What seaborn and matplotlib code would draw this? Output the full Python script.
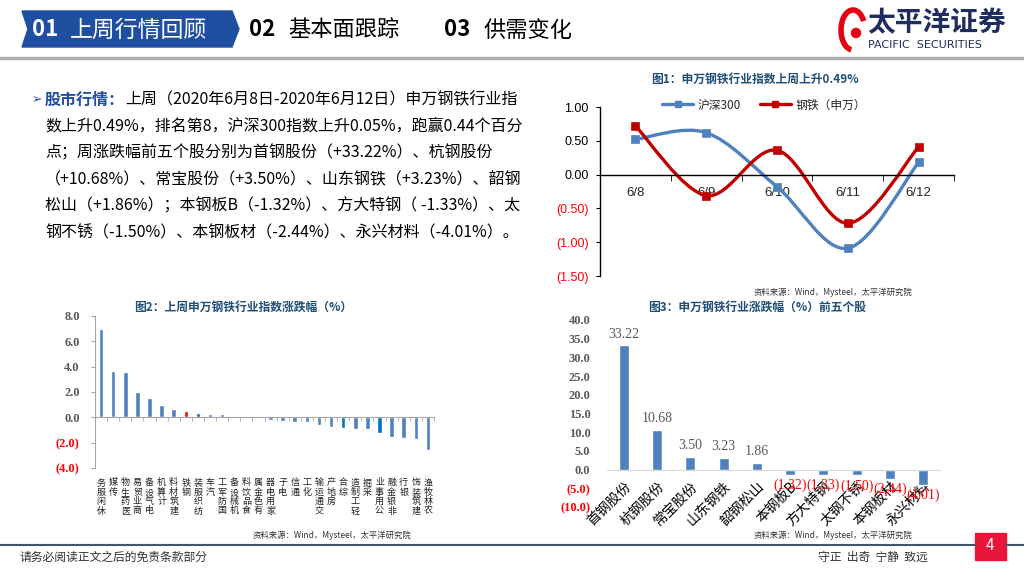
import numpy as np
import pandas as pd
import matplotlib
matplotlib.use('Agg')
import matplotlib.pyplot as plt
import seaborn as sns
from matplotlib.path import Path
from matplotlib.patches import PathPatch, Polygon, Rectangle, Arc, Circle
from matplotlib.lines import Line2D

# 图1：日涨跌幅
dates = ['6/8', '6/9', '6/10', '6/11', '6/12']
hs300 = [0.52, 0.62, -0.18, -1.09, 0.18]
steel = [0.72, -0.31, 0.36, -0.72, 0.41]

# 图2：申万一级行业周涨跌幅
industries = ['休闲服务', '传媒', '医药生物', '商业贸易', '电气设备', '计算机', '建筑材料',
              '钢铁', '纺织服装', '汽车', '国防军工', '机械设备', '食品饮料', '有色金属',
              '家用电器', '电子', '通信', '化工', '交通运输', '房地产', '综合', '轻工制造',
              '采掘', '公用事业', '非银金融', '银行', '建筑装饰', '农林牧渔']
ind_chg = [7.00, 3.63, 3.58, 2.00, 1.53, 0.95, 0.68, 0.49, 0.37, 0.26, 0.24, 0.03, -0.03,
           -0.05, -0.24, -0.32, -0.37, -0.37, -0.58, -0.76, -0.84, -0.89, -0.95, -1.24,
           -1.55, -1.60, -1.71, -2.60]
highlight_blue = ['纺织服装', '综合', '公用事业']

# 图3：个股涨跌幅
stocks = ['首钢股份', '杭钢股份', '常宝股份', '山东钢铁', '韶钢松山',
          '本钢板B', '方大特钢', '太钢不锈', '本钢板材', '永兴材料']
stock_chg = [33.22, 10.68, 3.50, 3.23, 1.86, -1.32, -1.33, -1.50, -2.44, -4.01]

W, H = 1024, 576
BLUE = '#4f81bd'
RED_LINE = '#c00000'
NEG = '#ff0000'
GRAY = '#595959'
TITLE = '#1f4e79'
SERIF = 'Liberation Serif'

sns.set_style('white')
plt.rcParams['font.family'] = ['Noto Sans CJK SC', 'DejaVu Sans']
plt.rcParams['axes.unicode_minus'] = False


def box(l, t, r, b):
    return [l / W, 1 - b / H, (r - l) / W, (b - t) / H]


def paren(v, d):
    return f'({abs(v):.{d}f})' if v < 0 else f'{v:.{d}f}'


def smooth_path(xs, ys, k=1 / 6):
    # 类似Excel平滑线的贝塞尔曲线
    pts = np.column_stack([xs, ys]).astype(float)
    p = np.vstack([pts[0], pts, pts[-1]])
    verts, codes = [pts[0]], [Path.MOVETO]
    for i in range(len(pts) - 1):
        p0, p1, p2, p3 = p[i], p[i + 1], p[i + 2], p[i + 3]
        verts += [p1 + (p2 - p0) * k, p2 - (p3 - p1) * k, p2]
        codes += [Path.CURVE4] * 3
    return Path(verts, codes)


fig = plt.figure(figsize=(W / 100, H / 100), dpi=100)

# 背景层，像素坐标
ax0 = fig.add_axes([0, 0, 1, 1])
ax0.set_xlim(0, W)
ax0.set_ylim(H, 0)
ax0.axis('off')

# 页眉
ax0.add_patch(Polygon([(22, 11), (232, 11), (239, 29), (232, 47), (22, 47), (28, 29)],
                      closed=True, color='#1f4fa0'))
ax0.text(32, 30, '01', color='white', fontsize=16, weight='bold', va='center')
ax0.text(70, 30, '上周行情回顾', color='white', fontsize=16.5, va='center')
ax0.text(249, 30, '02', color='black', fontsize=16, weight='bold', va='center')
ax0.text(288, 30, '基本面跟踪', color='black', fontsize=16, va='center')
ax0.text(444, 30, '03', color='black', fontsize=16, weight='bold', va='center')
ax0.text(484, 30, '供需变化', color='black', fontsize=16, va='center')
ax0.plot([0, W], [58, 58], color='#b0b0b0', lw=2.5)

# 标志
ax0.add_patch(Arc((853, 30), 24, 40, theta1=95, theta2=320, color='#e60012', lw=4))
ax0.add_patch(Circle((856, 33), 4.5, color='#e60012'))
ax0.text(867, 23, '太平洋证券', color='#1e2c5e', fontsize=20, weight='bold', va='center')
ax0.text(868, 45, 'PACIFIC  SECURITIES', color='#1e2c5e', fontsize=8, va='center',
         family='DejaVu Sans')

# 正文
body = ['数上升0.49%，排名第8，沪深300指数上升0.05%，跑赢0.44个百分',
        '点；周涨跌幅前五个股分别为首钢股份（+33.22%）、杭钢股份',
        '（+10.68%）、常宝股份（+3.50%）、山东钢铁（+3.23%）、韶钢',
        '松山（+1.86%）；本钢板B（-1.32%）、方大特钢（ -1.33%）、太',
        '钢不锈（-1.50%）、本钢板材（-2.44%）、永兴材料（-4.01%）。']
fs = 11.5
ax0.text(32, 100, '➢', color='#1f4fa0', fontsize=9, va='center', family='DejaVu Sans')
t1 = ax0.text(45, 100, '股市行情：', color='#1f4fa0', fontsize=fs, weight='bold', va='center')
ax0.annotate('上周（2020年6月8日-2020年6月12日）申万钢铁行业指', xy=(1, 0.5), xycoords=t1,
             va='center', ha='left', fontsize=fs, color='black')
for i, line in enumerate(body):
    ax0.text(45, 126.5 + i * 26.5, line, fontsize=fs, va='center', color='black')

# 页脚
ax0.plot([0, 975], [545, 545], color='#44546a', lw=1.5)
ax0.plot([1006, W], [545, 545], color='#44546a', lw=1.5)
ax0.add_patch(Rectangle((975, 533), 31, 27, color='#e8173a'))
ax0.text(990.5, 546, '4', color='white', fontsize=11, ha='center', va='center')
ax0.text(20, 557, '请务必阅读正文之后的免责条款部分', fontsize=8.5, color='#333333', va='center')
ax0.text(818, 557, '守正  出奇  宁静  致远', fontsize=8.5, color='#333333', va='center')

# 图标题与来源
ax0.text(755, 79, '图1：申万钢铁行业指数上周上升0.49%', color=TITLE, fontsize=8.5,
         weight='bold', ha='center', va='center')
ax0.text(243, 307, '图2：上周申万钢铁行业指数涨跌幅（%）', color=TITLE, fontsize=8.5,
         weight='bold', ha='center', va='center')
ax0.text(757, 307, '图3：申万钢铁行业涨跌幅（%）前五个股', color=TITLE, fontsize=8.5,
         weight='bold', ha='center', va='center')
src = '资料来源：Wind，Mysteel，太平洋研究院'
ax0.text(833, 292, src, fontsize=6, color='#333333', ha='center', va='center')
ax0.text(332, 535, src, fontsize=6, color='#333333', ha='center', va='center')
ax0.text(833, 535, src, fontsize=6, color='#333333', ha='center', va='center')

# ---------- 图1 ----------
ax1 = fig.add_axes(box(600, 107, 954, 276))
df1 = pd.DataFrame({'idx': range(len(dates)), 'hs300': hs300, 'steel': steel})
for col, c in [('hs300', BLUE), ('steel', RED_LINE)]:
    ax1.add_patch(PathPatch(smooth_path(df1['idx'], df1[col]), facecolor='none',
                            edgecolor=c, lw=2.4, capstyle='round', zorder=2))
    sns.scatterplot(data=df1, x='idx', y=col, marker='s', s=36, color=c,
                    edgecolor=c, ax=ax1, zorder=3)
ax1.spines['bottom'].set_position(('data', 0))
ax1.set_xlim(-0.5, 4.5)
ax1.set_ylim(-1.5, 1.0)
ax1.set_xlabel('')
ax1.set_ylabel('')
ax1.set_yticks([1.0, 0.5, 0.0, -0.5, -1.0, -1.5])
ax1.set_yticklabels([paren(v, 2) for v in [1.0, 0.5, 0.0, -0.5, -1.0, -1.5]],
                    family='Liberation Sans', fontsize=9)
for lab, v in zip(ax1.get_yticklabels(), [1.0, 0.5, 0.0, -0.5, -1.0, -1.5]):
    lab.set_color(NEG if v < 0 else 'black')
ax1.set_xticks(range(len(dates)))
ax1.set_xticklabels(dates, family='Liberation Sans', fontsize=9.5)
ax1.set_xticks(np.arange(0.5, 4.6, 1), minor=True)
for s in ['top', 'right']:
    ax1.spines[s].set_visible(False)
for s in ['left', 'bottom']:
    ax1.spines[s].set_color('black')
    ax1.spines[s].set_linewidth(1)
ax1.tick_params(axis='x', which='major', length=0, pad=9)
ax1.tick_params(axis='x', which='minor', length=4, direction='out', color='black', bottom=True)
ax1.tick_params(axis='y', length=3, direction='out', color='black', left=True, pad=5)
ax1.patch.set_alpha(0)
handles = [Line2D([], [], color=BLUE, lw=2.4, marker='s', markersize=5),
           Line2D([], [], color=RED_LINE, lw=2.4, marker='s', markersize=5)]
fig.legend(handles, ['沪深300', '钢铁（申万）'], loc='center', ncol=2, frameon=False,
           bbox_to_anchor=(764 / W, 1 - 105 / H), fontsize=8.5, handlelength=2.6,
           columnspacing=1.6, handletextpad=0.4)

# ---------- 图2 ----------
ax2 = fig.add_axes(box(95, 316, 434, 468))
colors2 = [NEG if n == '钢铁' else ('#0070c0' if n in highlight_blue else BLUE)
           for n in industries]
sns.barplot(x=industries, y=ind_chg, hue=industries, palette=colors2, legend=False,
            width=0.38, saturation=1, ax=ax2)
ax2.spines['bottom'].set_position(('data', 0))
ax2.set_xlim(-0.5, len(industries) - 0.5)
ax2.set_ylim(-4, 8)
ax2.set_yticks(range(-4, 9, 2))
ax2.set_yticklabels([paren(v, 1) for v in range(-4, 9, 2)], family=SERIF,
                    weight='bold', fontsize=9)
for lab, v in zip(ax2.get_yticklabels(), range(-4, 9, 2)):
    lab.set_color(NEG if v < 0 else GRAY)
ax2.set_xticks(range(len(industries)))
ax2.set_xticklabels(['\n'.join(reversed(n)) for n in industries], fontsize=6.5,
                    linespacing=1.05, color='#222222')
ax2.set_xticks(np.arange(-0.5, len(industries), 1), minor=True)
for s in ['top', 'right']:
    ax2.spines[s].set_visible(False)
for s in ['left', 'bottom']:
    ax2.spines[s].set_color('#a6a6a6')
ax2.tick_params(axis='x', which='major', length=0, pad=44)
ax2.tick_params(axis='x', which='minor', length=3, direction='out', color='#a6a6a6', bottom=True)
ax2.tick_params(axis='y', length=3, direction='out', color='#a6a6a6', left=True, pad=8)
ax2.set_xlabel('')
ax2.set_ylabel('')
ax2.patch.set_alpha(0)

# ---------- 图3 ----------
ax3 = fig.add_axes(box(607, 320, 940, 507))
sns.barplot(x=stocks, y=stock_chg, color=BLUE, saturation=1, width=0.3, ax=ax3)
ax3.spines['bottom'].set_position(('data', 0))
ax3.spines['bottom'].set_color('#d9d9d9')
for s in ['top', 'right', 'left']:
    ax3.spines[s].set_visible(False)
ax3.set_xlim(-0.5, len(stocks) - 0.5)
ax3.set_ylim(-10, 40)
ax3.set_yticks(range(-10, 41, 5))
ax3.set_yticklabels([paren(v, 1) for v in range(-10, 41, 5)], family=SERIF,
                    weight='bold', fontsize=9)
for lab, v in zip(ax3.get_yticklabels(), range(-10, 41, 5)):
    lab.set_color(NEG if v < 0 else GRAY)
ax3.set_xticks(range(len(stocks)))
ax3.set_xticklabels(stocks, rotation=45, ha='right', va='top', rotation_mode='anchor',
                    fontsize=10, color='black')
ax3.tick_params(axis='x', length=0, pad=7)
ax3.tick_params(axis='y', length=0, pad=12)
ax3.set_xlabel('')
ax3.set_ylabel('')
ax3.patch.set_alpha(0)
texts = ax3.bar_label(ax3.containers[0], labels=[paren(v, 2) for v in stock_chg],
                      padding=3, fontsize=10, family=SERIF)
for t, v in zip(texts, stock_chg):
    t.set_color(NEG if v < 0 else GRAY)

fig.savefig('out.png', dpi=100)
